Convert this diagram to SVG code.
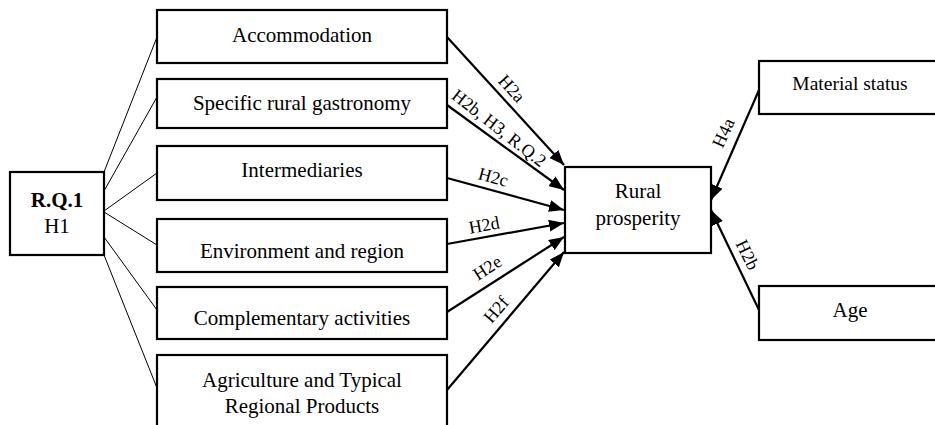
<svg xmlns="http://www.w3.org/2000/svg" width="935" height="425" viewBox="0 0 935 425">
<style>
.box{fill:#fff;stroke:#000;stroke-width:2.2}
.t{font-family:"Liberation Serif","Times New Roman",serif;font-size:21px;fill:#000;text-anchor:middle}
.b{font-weight:bold}
.lbl{font-family:"Liberation Serif","Times New Roman",serif;font-size:18px;fill:#000;text-anchor:middle}
.thin{stroke:#000;stroke-width:1;fill:none}
.arr{stroke:#000;stroke-width:2.2;fill:none;marker-end:url(#ah)}
</style>
<defs>
<marker id="ah" markerUnits="userSpaceOnUse" markerWidth="16" markerHeight="12" refX="15" refY="6" orient="auto">
<path d="M0,0 L15,6 L0,12 Z" fill="#000"/>
</marker>
</defs>
<rect width="935" height="425" fill="#fff"/>
<g id="connectors">
<line class="thin" x1="104" y1="172" x2="157" y2="37"/>
<line class="thin" x1="104" y1="191" x2="157" y2="97"/>
<line class="thin" x1="104" y1="211" x2="157" y2="173"/>
<line class="thin" x1="104" y1="212" x2="157" y2="245"/>
<line class="thin" x1="104" y1="237" x2="157" y2="310"/>
<line class="thin" x1="104" y1="255" x2="157" y2="388"/>
<line class="arr" x1="447" y1="37" x2="564" y2="165"/>
<line class="arr" x1="447" y1="105" x2="564" y2="190"/>
<line class="arr" x1="447" y1="178" x2="564" y2="210"/>
<line class="arr" x1="447" y1="244" x2="564" y2="223"/>
<line class="arr" x1="447" y1="312" x2="564" y2="237"/>
<line class="arr" x1="447" y1="390" x2="564" y2="252"/>
<line class="arr" x1="759" y1="90" x2="711" y2="200"/>
<line class="arr" x1="759" y1="310" x2="711" y2="210"/>
<text class="lbl" transform="translate(508,92) rotate(48)" y="1">H2a</text>
<text class="lbl" transform="translate(496,132) rotate(38)" y="1">H2b, H3, R.Q.2</text>
<text class="lbl" transform="translate(492,182) rotate(15)" y="1">H2c</text>
<text class="lbl" transform="translate(485,230) rotate(-10)" y="1">H2d</text>
<text class="lbl" transform="translate(490,272) rotate(-33)" y="1">H2e</text>
<text class="lbl" transform="translate(500,313) rotate(-49)" y="1">H2f</text>
<text class="lbl" transform="translate(728,135) rotate(-65)" y="1">H4a</text>
<text class="lbl" transform="translate(743,257) rotate(64)" y="1">H2b</text>
</g>
<g id="rq1">
<rect class="box" x="10" y="172" width="94" height="83"/>
<text class="t b" x="57" y="207">R.Q.1</text>
<text class="t" x="57" y="233">H1</text>
</g>
<g id="accommodation">
<rect class="box" x="157" y="10" width="290" height="53"/>
<text class="t" x="302" y="42">Accommodation</text>
</g>
<g id="gastronomy">
<rect class="box" x="157" y="79" width="290" height="49"/>
<text class="t" x="302" y="110">Specific rural gastronomy</text>
</g>
<g id="intermediaries">
<rect class="box" x="157" y="146" width="290" height="54"/>
<text class="t" x="302" y="177">Intermediaries</text>
</g>
<g id="environment">
<rect class="box" x="157" y="219" width="290" height="53"/>
<text class="t" x="302" y="258">Environment and region</text>
</g>
<g id="complementary">
<rect class="box" x="157" y="287" width="290" height="52"/>
<text class="t" x="302" y="325">Complementary activities</text>
</g>
<g id="agriculture">
<rect class="box" x="157" y="355" width="290" height="75"/>
<text class="t" x="302" y="387">Agriculture and Typical</text>
<text class="t" x="302" y="413">Regional Products</text>
</g>
<g id="rural">
<rect class="box" x="565" y="167" width="146" height="86"/>
<text class="t" x="638" y="198">Rural</text>
<text class="t" x="638" y="225">prosperity</text>
</g>
<g id="material">
<rect class="box" x="759" y="61" width="190" height="53"/>
<text class="t" x="850" y="90" style="font-size:19.5px">Material status</text>
</g>
<g id="age">
<rect class="box" x="759" y="286" width="190" height="54"/>
<text class="t" x="850" y="317">Age</text>
</g>
</svg>
